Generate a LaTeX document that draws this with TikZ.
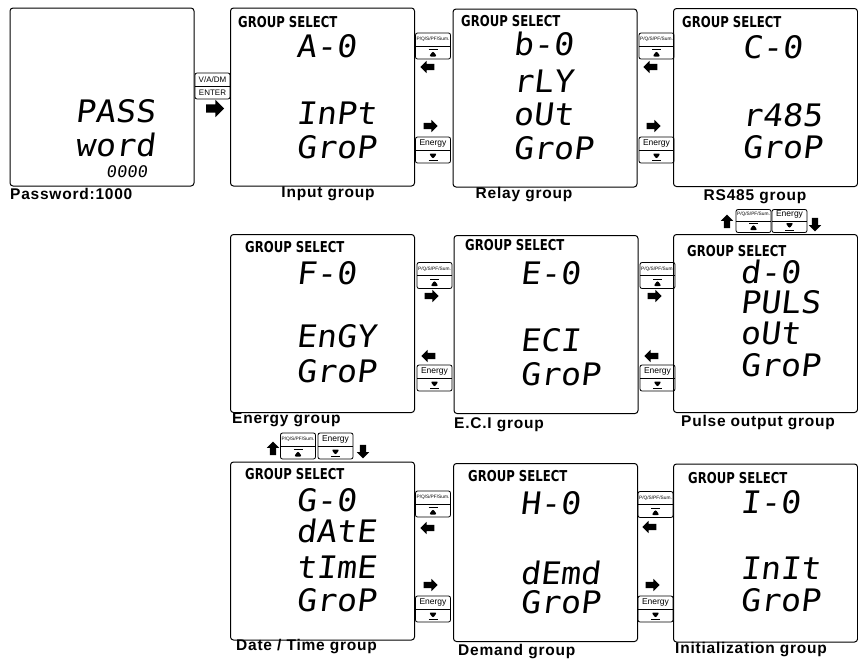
\documentclass[tikz,border=0pt]{standalone}
\usepackage{fontspec}
\setmainfont{Liberation Sans}
\newfontfamily\segfont[FakeSlant=0.12,FakeStretch=1.07]{DejaVu Sans Mono}
\newfontfamily\headfont[FakeStretch=0.78]{DejaVu Sans}
\newfontfamily\lblfont[LetterSpace=5]{Liberation Sans}
\usetikzlibrary{shapes.arrows}

\tikzset{
  screen/.style={draw,line width=1pt,rounded corners=3pt,minimum width=184pt,minimum height=178pt,inner sep=0pt},
  head/.style={anchor=west,inner sep=0pt,text height=11pt,text depth=0pt,font=\headfont\bfseries\fontsize{15}{15}\selectfont},
  seg/.style={anchor=west,inner sep=0pt,text height=23pt,text depth=0pt,font=\segfont\fontsize{31}{31}\selectfont},
  segsmall/.style={anchor=west,inner sep=0pt,text height=12pt,text depth=0pt,font=\segfont\fontsize{16}{16}\selectfont},
  grp/.style={inner sep=0pt,font=\lblfont\bfseries\fontsize{15.5}{16}\selectfont},
  key/.style={draw,line width=0.8pt,rounded corners=2pt,minimum width=35pt,minimum height=26pt,inner sep=0pt,
    path picture={\draw[line width=0.7pt] (path picture bounding box.west) -- (path picture bounding box.east);}},
  keyup/.style={key,
    path picture={\draw[line width=0.7pt] (path picture bounding box.west) -- (path picture bounding box.east);
      \fill ([yshift=2.5pt]path picture bounding box.south) +(-4pt,0pt) -- +(4pt,0pt) -- +(0pt,5.5pt) -- cycle;
      \draw[line width=1pt] ([yshift=9.5pt]path picture bounding box.south) +(-4.5pt,0pt) -- +(4.5pt,0pt);}},
  keydown/.style={key,
    path picture={\draw[line width=0.7pt] (path picture bounding box.west) -- (path picture bounding box.east);
      \fill ([yshift=9.5pt]path picture bounding box.south) +(-4pt,0pt) -- +(4pt,0pt) -- +(0pt,-5.5pt) -- cycle;
      \draw[line width=1pt] ([yshift=2.5pt]path picture bounding box.south) +(-4.5pt,0pt) -- +(4.5pt,0pt);}},
  keytop/.style={yshift=6.3pt,inner sep=0pt,font=\fontsize{8}{8}\selectfont},
  keybot/.style={yshift=-6.3pt,inner sep=0pt,font=\fontsize{8}{8}\selectfont},
  pqtxt/.style={keytop,font=\fontsize{4.8}{5}\selectfont},
  entxt/.style={keytop,font=\fontsize{8.5}{9}\selectfont},
  blk/.style={single arrow,fill=black,inner xsep=0pt,inner ysep=3pt,minimum height=14pt,single arrow head extend=3pt},
  blkv/.style={blk,inner xsep=3pt,inner ysep=0pt,minimum height=13.5pt},
}

\begin{document}
\begin{tikzpicture}[x=1pt,y=-1pt]
\useasboundingbox (0,0) rectangle (858,659);

% screens
\node[screen] (pw) at (102,97) {};
\node[screen] (inp) at (322.5,97) {};
\node[screen] (rly) at (545,98) {};
\node[screen] (rs) at (765.5,97.5) {};
\node[screen] (eng) at (322.5,323.5) {};
\node[screen] (eci) at (546,324.5) {};
\node[screen] (pls) at (765.5,323.5) {};
\node[screen] (dat) at (322.5,551) {};
\node[screen] (dem) at (545.5,552.5) {};
\node[screen] (ini) at (765.5,553) {};

% password
\node[seg] (pwa) at (75,111) {PASS};
\node[seg] (pwb) at (75,145) {word};
\node[segsmall] (pwc) at (106,171) {0000};
\node[grp,anchor=west] (pwl) at (10,194) {Password:1000};

% input
\node[head] (inph) at (238,22) {GROUP SELECT};
\node[seg] (inpa) at (296,46) {A-0};
\node[seg] (inpb) at (296,113) {InPt};
\node[seg] (inpc) at (296,147) {GroP};
\node[grp] (inpl) at (328,194) {Input group};

% relay
\node[head] (rlyh) at (461,21) {GROUP SELECT};
\node[seg] (rlya) at (513,44) {b-0};
\node[seg] (rlyb) at (513,81) {rLY};
\node[seg] (rlyc) at (513,114) {oUt};
\node[seg] (rlyd) at (513,148) {GroP};
\node[grp] (rlyl) at (524,195) {Relay group};

% rs485
\node[head] (rsh) at (682,22) {GROUP SELECT};
\node[seg] (rsa) at (742,47) {C-0};
\node[seg] (rsb) at (742,115) {r485};
\node[seg] (rsc) at (742,147) {GroP};
\node[grp] (rsl) at (755,197) {RS485 group};

% energy
\node[head] (engh) at (245,247) {GROUP SELECT};
\node[seg] (enga) at (296,273) {F-0};
\node[seg] (engb) at (296,336) {EnGY};
\node[seg] (engc) at (296,371) {GroP};
\node[grp,anchor=west] (engl) at (232,420) {Energy group};

% e.c.i
\node[head] (ecih) at (465,245) {GROUP SELECT};
\node[seg] (ecia) at (520,273) {E-0};
\node[seg] (ecib) at (520,340) {ECI};
\node[seg] (ecic) at (520,374) {GroP};
\node[grp,anchor=west] (ecil) at (454,425) {E.C.I group};

% pulse
\node[head] (plsh) at (687,251) {GROUP SELECT};
\node[seg] (plsa) at (740,272) {d-0};
\node[seg] (plsb) at (740,302) {PULS};
\node[seg] (plsc) at (740,333) {oUt};
\node[seg] (plsd) at (740,365) {GroP};
\node[grp,anchor=west] (plsl) at (681,423) {Pulse output group};

% date / time
\node[head] (dath) at (245,474) {GROUP SELECT};
\node[seg] (data) at (296,500) {G-0};
\node[seg] (datb) at (296,531) {dAtE};
\node[seg] (datc) at (296,567) {tImE};
\node[seg] (datd) at (296,600) {GroP};
\node[grp,anchor=west] (datl) at (236,647) {Date / Time group};

% demand
\node[head] (demh) at (468,476) {GROUP SELECT};
\node[seg] (dema) at (520,503) {H-0};
\node[seg] (demb) at (520,573) {dEmd};
\node[seg] (demc) at (520,602) {GroP};
\node[grp,anchor=west] (deml) at (458,652) {Demand group};

% initialization
\node[head] (inih) at (688,478) {GROUP SELECT};
\node[seg] (inia) at (740,502) {I-0};
\node[seg] (inib) at (740,568) {InIt};
\node[seg] (inic) at (740,600) {GroP};
\node[grp,anchor=west] (inil) at (675,650) {Initialization group};

% enter key
\node[key,label={[keytop]center:V/A/DM},label={[keybot]center:ENTER}] (kent) at (212.5,86) {};
\node[blk,minimum height=18pt,inner ysep=4pt,single arrow head extend=4.5pt] (go) at (213,108.5) {};

% keys row 1
\node[keyup,label={[pqtxt]center:P/Q/S/PF/Sum.}] (kpqa) at (433,46) {};
\node[blk,shape border rotate=180] (la) at (429,67) {};
\node[blk] (ra) at (429,126) {};
\node[keydown,label={[entxt]center:Energy}] (kena) at (433,150) {};
\node[keyup,label={[pqtxt]center:P/Q/S/PF/Sum.}] (kpqb) at (656.5,46) {};
\node[blk,shape border rotate=180] (lb) at (652,67) {};
\node[blk] (rb) at (652,126) {};
\node[keydown,label={[entxt]center:Energy}] (kenb) at (656.5,150) {};

% keys row 2
\node[keyup,label={[pqtxt]center:P/Q/S/PF/Sum.}] (kpqc) at (434.5,275.5) {};
\node[blk] (rc) at (430,296) {};
\node[blk,shape border rotate=180] (lc) at (430,356) {};
\node[keydown,label={[entxt]center:Energy}] (kenc) at (434.5,378) {};
\node[keyup,label={[pqtxt]center:P/Q/S/PF/Sum.}] (kpqd) at (657.5,275.5) {};
\node[blk] (rd) at (653,296) {};
\node[blk,shape border rotate=180] (ld) at (653,356) {};
\node[keydown,label={[entxt]center:Energy}] (kend) at (657.5,378) {};
\node[blkv,shape border rotate=90] (ud) at (727,223) {};
\node[keyup,minimum height=23pt,label={[pqtxt]center:P/Q/S/PF/Sum.}] (kpqv) at (753.5,221) {};
\node[keydown,minimum height=23pt,label={[entxt]center:Energy}] (kenv) at (789.5,221) {};
\node[blkv,shape border rotate=270] (dd) at (815,223) {};

% keys row 3
\node[blkv,shape border rotate=90] (ue) at (273,450) {};
\node[keyup,label={[pqtxt]center:P/Q/S/PF/Sum.}] (kpqw) at (298,446) {};
\node[keydown,label={[entxt]center:Energy}] (kenw) at (335.5,446) {};
\node[blkv,shape border rotate=270] (de) at (363,450) {};
\node[keyup,label={[pqtxt]center:P/Q/S/PF/Sum.}] (kpqe) at (433,504) {};
\node[blk,shape border rotate=180] (le) at (429,528) {};
\node[blk] (re) at (429,585) {};
\node[keydown,label={[entxt]center:Energy}] (kene) at (433,609) {};
\node[keyup,label={[pqtxt]center:P/Q/S/PF/Sum.}] (kpqf) at (655.5,504.5) {};
\node[blk,shape border rotate=180] (lf) at (651,527) {};
\node[blk] (rf) at (651,585) {};
\node[keydown,label={[entxt]center:Energy}] (kenf) at (655.5,609) {};
\end{tikzpicture}
\end{document}
